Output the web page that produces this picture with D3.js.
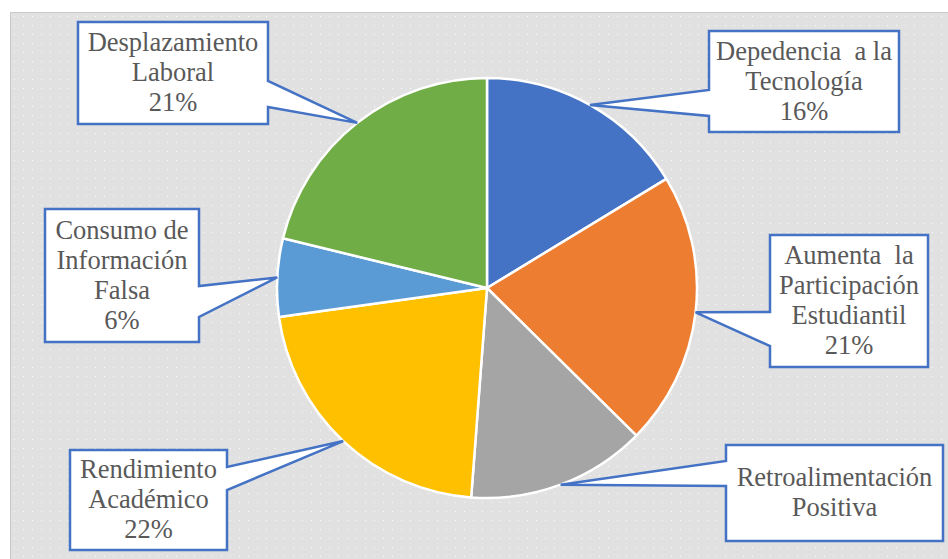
<!DOCTYPE html>
<html>
<head>
<meta charset="utf-8">
<script src="https://cdn.jsdelivr.net/npm/d3@7"></script>
</head>
<body style="margin:0">
<svg id="chart" width="948" height="559"></svg>
<script>
// ---- data ----
const categories = [
  "Depedencia a la Tecnología",
  "Aumenta la Participación Estudiantil",
  "Retroalimentación Positiva",
  "Rendimiento Académico",
  "Consumo de Información Falsa",
  "Desplazamiento Laboral"
];
const values = [16.3, 21.1, 13.8, 21.6, 6.0, 21.2];
const colors = ["#4472c4", "#ed7d31", "#a5a5a5", "#ffc000", "#5b9bd5", "#70ad47"];
const labelLines = [
  ["Depedencia\u00a0\u00a0a la", "Tecnología"],
  ["Aumenta\u00a0 la", "Participación", "Estudiantil"],
  ["Retroalimentación", "Positiva"],
  ["Rendimiento", "Académico"],
  ["Consumo de", "Información", "Falsa"],
  ["Desplazamiento", "Laboral"]
];
const showPercent = [true, true, false, true, true, true];

// ---- layout (callout boxes) ----
const callouts = [
  { x: 709, y: 31,  w: 190, h: 101, side: "left",  a1: 90,  a2: 116 },
  { x: 770, y: 235, w: 158, h: 132, side: "left",  a1: 312, a2: 346 },
  { x: 726, y: 445, w: 217, h: 96,  side: "left",  a1: 461, a2: 486 },
  { x: 70,  y: 450, w: 157, h: 100, side: "right", a1: 467, a2: 490 },
  { x: 45,  y: 209, w: 154, h: 133, side: "right", a1: 286, a2: 317 },
  { x: 78,  y: 22,  w: 190, h: 102, side: "right", a1: 81,  a2: 107 }
];

const W = 948, H = 559;
const cx = 487, cy = 288, R = 210;
const svg = d3.select("#chart");

// background panel with dot texture
const defs = svg.append("defs");
const pat = defs.append("pattern").attr("id", "dots")
  .attr("width", 9).attr("height", 9).attr("patternUnits", "userSpaceOnUse")
  .attr("x", 10).attr("y", 12);
pat.append("rect").attr("width", 9).attr("height", 9).attr("fill", "#e1e1e1");
pat.append("rect").attr("x", 4).attr("y", 4).attr("width", 1).attr("height", 1).attr("fill", "#fbfbfb");

svg.append("rect").attr("x", 10).attr("y", 12).attr("width", W - 10).attr("height", H - 12)
  .attr("fill", "url(#dots)");
svg.append("path").attr("d", `M10.5,${H} V12.5 H${W}`)
  .attr("fill", "none").attr("stroke", "#c9c9c9").attr("stroke-width", 1);

// pie
const pie = d3.pie().sort(null).value(d => d);
const arcs = pie(values);
const arc = d3.arc().innerRadius(0).outerRadius(R);

const g = svg.append("g").attr("transform", `translate(${cx},${cy})`);
g.selectAll("path.slice").data(arcs).join("path")
  .attr("class", "slice")
  .attr("d", arc)
  .attr("fill", (d, i) => colors[i])
  .attr("stroke", "#ffffff")
  .attr("stroke-width", 2.5)
  .attr("stroke-linejoin", "round");

// callout shapes
const total = d3.sum(values);
arcs.forEach((d, i) => {
  const c = callouts[i];
  const mid = (d.startAngle + d.endAngle) / 2;
  const tx = cx + R * Math.sin(mid);
  const ty = cy - R * Math.cos(mid);
  let p;
  if (c.side === "left") {
    p = `M${c.x},${c.y} H${c.x + c.w} V${c.y + c.h} H${c.x} V${c.a2} L${tx},${ty} L${c.x},${c.a1} Z`;
  } else {
    p = `M${c.x},${c.y} H${c.x + c.w} V${c.a1} L${tx},${ty} L${c.x + c.w},${c.a2} V${c.y + c.h} H${c.x} Z`;
  }
  svg.append("path").attr("d", p)
    .attr("fill", "#ffffff")
    .attr("stroke", "#4472c4")
    .attr("stroke-width", 2.5)
    .attr("stroke-linejoin", "miter");
});

// label text (one text element per line)
const labelRows = [];
arcs.forEach((d, i) => {
  const c = callouts[i];
  const lines = labelLines[i].slice();
  if (showPercent[i]) lines.push(Math.round(values[i] / total * 100) + "%");
  const lh = 30;
  const startY = c.y + c.h / 2 - (lines.length - 1) * lh / 2;
  lines.forEach((ln, k) => labelRows.push({ x: c.x + c.w / 2, y: startY + k * lh + 8, t: ln }));
});
svg.selectAll("text.lbl").data(labelRows).join("text")
  .attr("class", "lbl")
  .attr("x", d => d.x).attr("y", d => d.y)
  .attr("font-size", 26.5)
  .attr("text-anchor", "middle")
  .attr("fill", "#595959")
  .style("font-family", '"Liberation Serif", "Times New Roman", serif')
  .text(d => d.t);
</script>
</body>
</html>
